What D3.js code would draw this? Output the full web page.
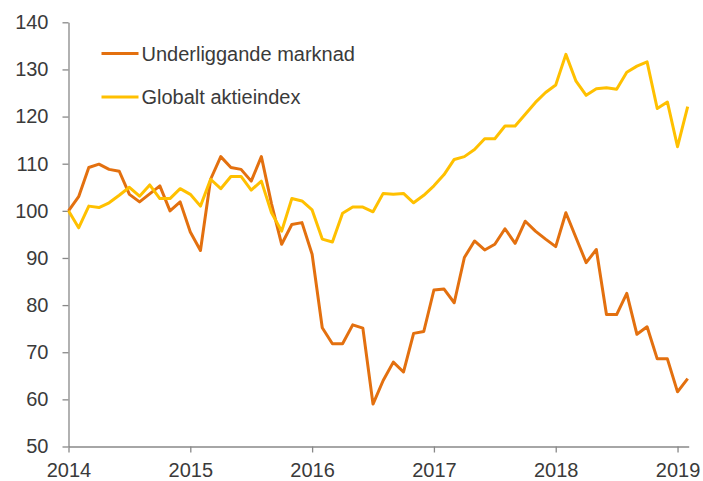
<!DOCTYPE html>
<html>
<head>
<meta charset="utf-8">
<script src="https://cdn.jsdelivr.net/npm/d3@7"></script>
<style>
  html, body { margin: 0; padding: 0; background: #fff; }
  svg { display: block; }
  text { font-family: "Liberation Sans", Arial, sans-serif; fill: #3a3a3a; }
</style>
</head>
<body>
<svg id="chart" width="703" height="481"></svg>
<script>
// Monthly observations, Jan 2014 .. Feb 2019
const startYear = 2014;
const yearLabels = ["2014", "2015", "2016", "2017", "2018", "2019"];
const yTicks = [50, 60, 70, 80, 90, 100, 110, 120, 130, 140];
const seriesNames = ["Underliggande marknad", "Globalt aktieindex"];

const underliggande = [
  100, 103, 109.2, 109.9, 108.8, 108.4, 103.5, 101.9, 103.6, 105.3, 100, 101.9,
  95.5, 91.6, 106.7, 111.5, 109.2, 108.8, 106.3, 111.5, 101.5, 92.9, 97.1, 97.5,
  90.8, 75.2, 71.8, 71.8, 75.8, 75.1, 59.0, 64.0, 67.9, 65.8, 74.0, 74.4,
  83.2, 83.4, 80.5, 90.1, 93.6, 91.7, 92.9, 96.2, 93.1, 97.8, 95.7, 94.0,
  92.4, 99.6, 94.3, 89.0, 91.8, 78.0, 78.0, 82.5, 73.8, 75.4, 68.6, 68.6,
  61.6, 64.4
];
const globalt = [
  100, 96.4, 101.0, 100.7, 101.7, 103.3, 105.0, 103.1, 105.5, 102.6, 102.6, 104.7,
  103.5, 101.0, 106.7, 104.7, 107.3, 107.3, 104.4, 106.3, 99.6, 95.7, 102.6, 102.1,
  100.2, 94.0, 93.4, 99.5, 100.8, 100.8, 99.8, 103.7, 103.5, 103.7, 101.7, 103.3,
  105.3, 107.7, 110.9, 111.5, 113.0, 115.3, 115.3, 118.0, 118.0, 120.5, 123.0, 125.1,
  126.7, 133.2, 127.5, 124.5, 125.9, 126.1, 125.8, 129.4, 130.7, 131.6, 121.7, 123.1,
  113.6, 122.1
];
const colors = ["#E3700F", "#FFC000"];

const svg = d3.select("#chart");
const x0 = 68.5, x1 = 688.7, yTop = 22.3, yBot = 446.5;

const x = d3.scaleLinear().domain([0, 61.1]).range([x0, x1]);
const y = d3.scaleLinear().domain([50, 140]).range([yBot, yTop]);

// Y axis
const yAxis = d3.axisLeft(y).tickValues(yTicks).tickSize(6).tickSizeOuter(0).tickPadding(14);
const gy = svg.append("g").attr("transform", `translate(${x0},0)`).call(yAxis);
gy.selectAll("path, line").attr("stroke", "#888").attr("stroke-width", 1.3);
gy.selectAll("text").style("font-size", "20px").attr("fill", "#3a3a3a");

// X axis
const xTickVals = yearLabels.map((d, i) => i * 12);
const xAxis = d3.axisBottom(x).tickValues(xTickVals).tickFormat((d, i) => yearLabels[i])
  .tickSize(6).tickSizeOuter(0).tickPadding(10);
const gx = svg.append("g").attr("transform", `translate(0,${yBot})`).call(xAxis);
gx.selectAll("path, line").attr("stroke", "#888").attr("stroke-width", 1.3);
gx.selectAll("text").style("font-size", "20px").attr("fill", "#3a3a3a");

// Lines
const line = d3.line().x((d, i) => x(i)).y(d => y(d));
[underliggande, globalt].forEach((s, k) => {
  svg.append("path")
    .datum(s)
    .attr("fill", "none")
    .attr("stroke", colors[k])
    .attr("stroke-width", 3)
    .attr("stroke-linejoin", "round")
    .attr("d", line);
});

// Legend
const legendY = [53.5, 97];
seriesNames.forEach((name, k) => {
  const g = svg.append("g");
  g.append("line")
    .attr("x1", 101.5).attr("x2", 138.5)
    .attr("y1", legendY[k]).attr("y2", legendY[k])
    .attr("stroke", colors[k]).attr("stroke-width", 3);
  g.append("text")
    .attr("x", 141.5).attr("y", legendY[k]).attr("dy", "0.35em")
    .style("font-size", "20px")
    .text(name);
});
</script>
</body>
</html>
